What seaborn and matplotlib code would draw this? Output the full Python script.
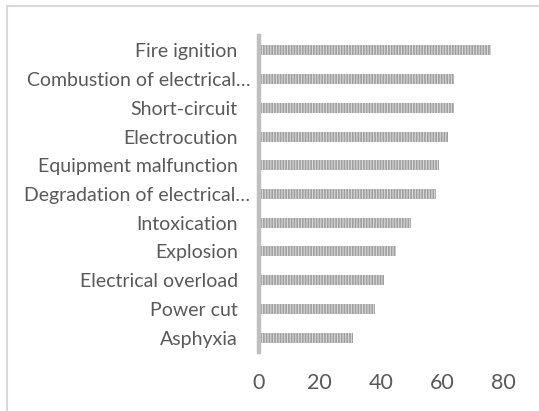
import matplotlib
matplotlib.use("Agg")
import matplotlib.pyplot as plt
import matplotlib.transforms as mtransforms
import seaborn as sns
import pandas as pd

categories = [
    "Fire ignition",
    "Combustion of electrical…",
    "Short-circuit",
    "Electrocution",
    "Equipment malfunction",
    "Degradation of electrical…",
    "Intoxication",
    "Explosion",
    "Electrical overload",
    "Power cut",
    "Asphyxia",
]
values = [76, 64, 64, 62, 59, 58, 50, 45, 41, 38, 31]
x_ticks = [0, 20, 40, 60, 80]

df = pd.DataFrame({"cause": categories, "count": values})

sns.set_theme(style="white")
plt.rcParams["font.family"] = ["Lato", "DejaVu Sans"]
plt.rcParams["hatch.linewidth"] = 0.8

fig = plt.figure(figsize=(5.39, 4.11), dpi=100)
ax = fig.add_axes([0.4796, 0.1436, 0.4536, 0.7688])

sns.barplot(data=df, x="count", y="cause", orient="h", ax=ax,
            color="#a0a0a0", width=0.35, saturation=1)
for p in ax.patches:
    p.set_hatch("||||||")
    p.set_edgecolor("#dadada")
    p.set_linewidth(0)

ax.set_xlim(0, 80)
ax.set_xticks(x_ticks)
ax.set_xlabel("")
ax.set_ylabel("")
ax.tick_params(axis="x", labelsize=15.5, colors="#595959", length=0, pad=15)
ax.tick_params(axis="y", labelsize=14, colors="#595959", length=0, pad=15)

# truncated category names spill a little closer to the axis
shift = mtransforms.ScaledTranslation(9 / 72, 0, fig.dpi_scale_trans)
for lbl in ax.get_yticklabels():
    if lbl.get_text().endswith("…"):
        lbl.set_transform(lbl.get_transform() + shift)

for side in ["top", "right", "bottom"]:
    ax.spines[side].set_visible(False)
ax.spines["left"].set_color("#bfbfbf")
ax.spines["left"].set_linewidth(3.2)

# chart-area frame
fig.patches.append(plt.Rectangle((6.5 / 539, -0.1), 1.2, 1.1 - 6.5 / 411,
                                 transform=fig.transFigure, fill=False,
                                 edgecolor="#d9d9d9", linewidth=1.5))

fig.savefig("out.png", dpi=100)
